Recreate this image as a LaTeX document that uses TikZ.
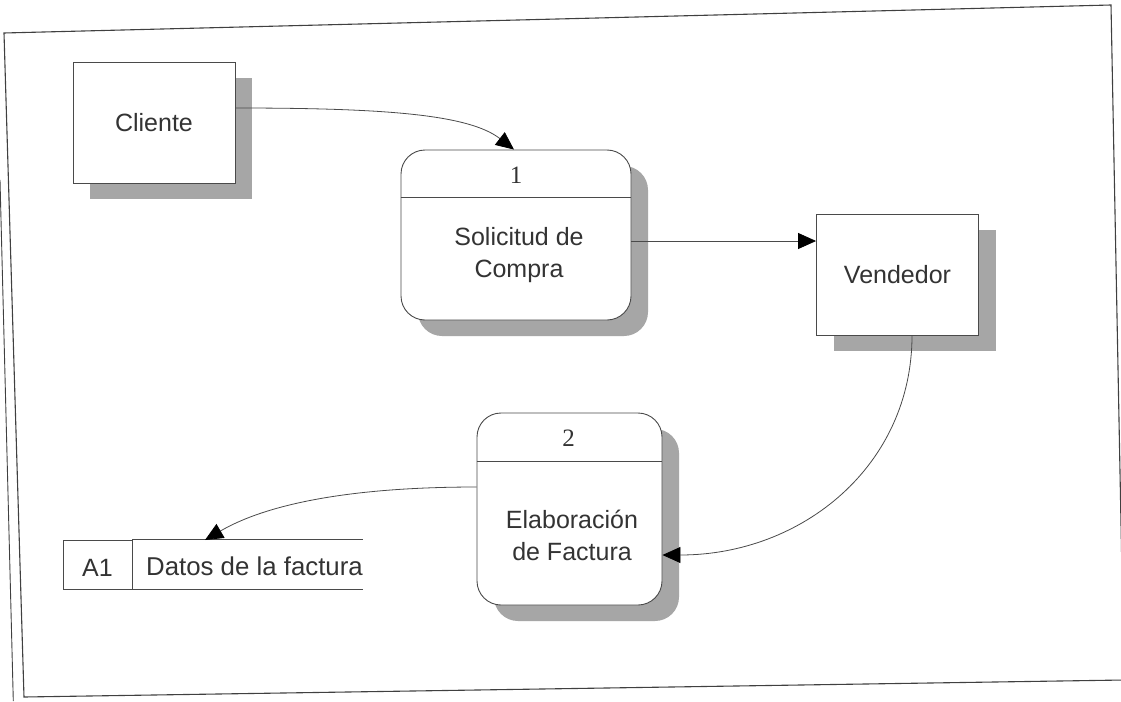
\documentclass[tikz,border=0pt]{standalone}
\usepackage{fontspec}
\setmainfont{Liberation Sans}
\newfontfamily\numfont{Liberation Serif}
\usetikzlibrary{arrows.meta,shadows,calc}
\definecolor{linegray}{HTML}{4A4A4A}
\definecolor{textgray}{HTML}{333333}
\definecolor{shadowgray}{HTML}{A6A6A6}
\begin{document}
\begin{tikzpicture}[x=1pt,y=1pt,
  shadowed/.style={drop shadow={shadow xshift=17pt,shadow yshift=-16pt,fill=shadowgray,opacity=1}},
  entity/.style={draw=linegray,line width=0.9pt,fill=white,inner sep=0pt,
    minimum width=162pt,minimum height=121pt,shadowed,
    font=\fontsize{25}{32}\selectfont,text=textgray},
  process/.style={draw=linegray,line width=0.9pt,fill=white,inner sep=0pt,
    rounded corners=24pt,shadowed},
  numtext/.style={font=\numfont\fontsize{25}{30}\selectfont,text=textgray,inner sep=0pt},
  bodytext/.style={font=\fontsize{25}{32}\selectfont,text=textgray,align=center,inner sep=0pt},
  divider/.style={draw=linegray,line width=0.9pt},
  storecell/.style={draw=linegray,line width=0.9pt,inner sep=0pt,minimum width=69pt,minimum height=49pt},
  flow/.style={draw=linegray,line width=0.8pt,-{Triangle[length=18pt,width=16pt,black]}},
  frame/.style={draw=black!75,line width=1.1pt}
]
\useasboundingbox (0,0) rectangle (1121,-701);
\fill[white] (0,0) rectangle (1121,-701);

% outer frame (scanned page border)
\draw[frame] (4,-33) -- (1111,-5) -- (1124,-680) -- (24,-697) -- cycle;
\draw[frame,line width=0.9pt] (0,-180) -- (13.3,-701);

% external entities
\node[entity] (C) at (154,-122.5) {Cliente};
\node[entity] (V) at (897.5,-274.5) {Vendedor};

% processes
\node[process,minimum width=230pt,minimum height=170pt] (P1) at (516,-235) {};
\draw[divider] ([yshift=-48pt]P1.north west) -- ([yshift=-48pt]P1.north east);
\node[numtext] (P1num) at (516,-175) {1};
\node[bodytext] (P1txt) at (519,-255) {Solicitud de\\Compra};

\node[process,minimum width=185pt,minimum height=192pt] (P2) at (569.5,-509) {};
\draw[divider] ([yshift=-49pt]P2.north west) -- ([yshift=-49pt]P2.north east);
\node[numtext] (P2num) at (568.5,-438) {2};
\node[bodytext] (P2txt) at (572,-535) {Elaboración\\de Factura};

% data store
\node[storecell] (DSid) at (97.5,-564.5) {};
\node[bodytext] (DSidtxt) at (97.5,-568) {A1};
\coordinate (dsend) at (363,-564.5);
\draw[divider] (DSid.north east) -- (DSid.north east -| dsend);
\draw[divider] (DSid.south east) -- (DSid.south east -| dsend);
\node[bodytext,anchor=west,font=\fontsize{25.8}{32}\selectfont] (DSname) at (146,-566) {Datos de la factura};
\coordinate (dsin) at (205,-540);

% flows
\draw[flow] ([yshift=14.5pt]C.east) .. controls +(150,0) and +(-45,35) .. ([xshift=-2pt]P1.north);
\coordinate (p1out) at ([yshift=-6pt]P1.east);
\draw[flow] (p1out) -- (p1out -| V.west);
\draw[flow] ([xshift=14.5pt]V.south) .. controls +(0,-130) and +(140,0) .. ([yshift=-46pt]P2.east);
\draw[flow] ([yshift=22pt]P2.west) .. controls +(-130,0) and +(60,35) .. (dsin);
\end{tikzpicture}
\end{document}
